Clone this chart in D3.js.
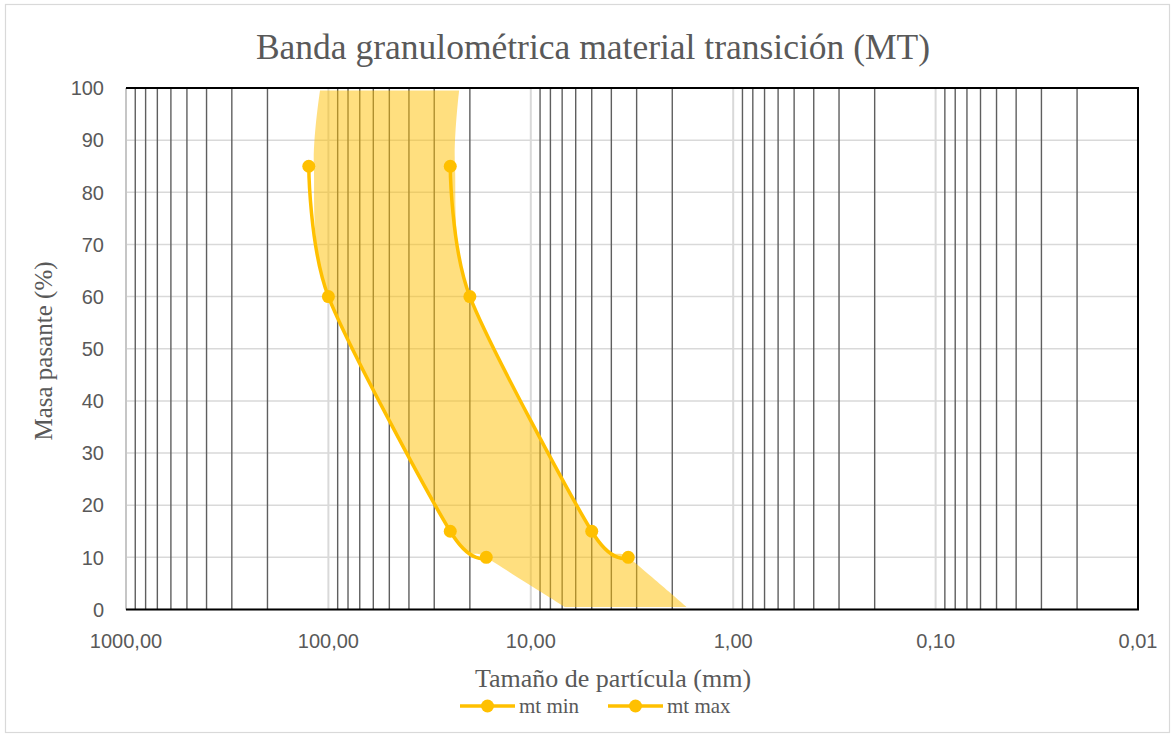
<!DOCTYPE html>
<html>
<head>
<meta charset="utf-8">
<script src="https://cdn.jsdelivr.net/npm/d3@7"></script>
<style>
  body { margin: 0; background: #fff; }
  text { fill: #595959; }
</style>
</head>
<body>
<svg id="chart" width="1174" height="736"></svg>
<script>
// pasante (%) de cada punto de las curvas
const percent = [85, 60, 15, 10];
const mtMin = [125, 100, 25, 16.6];
const mtMax = [25, 20, 5, 3.3];

// banda sombreada: borde grueso y borde fino
const bandPercent = [99.5, 85, 60, 15, 10, 0.5];
const bandCoarse = [110, 118, 100, 25, 16.6, 6.8];
const bandFine = [22.6, 23.7, 20, 5, 3.3, 1.7];

const xTicks = [1000, 100, 10, 1, 0.1, 0.01];
const yTicks = [0, 10, 20, 30, 40, 50, 60, 70, 80, 90, 100];

const svg = d3.select('#chart');
const pLeft = 126, pRight = 1138, pTop = 88, pBottom = 609.5;

const x = d3.scaleLog().domain([1000, 0.01]).range([pLeft, pRight]);
const y = d3.scaleLinear().domain([0, 100]).range([pBottom, pTop]);

const serif = "'Liberation Serif', 'DejaVu Serif', serif";
const sans = "'Liberation Sans', Arial, sans-serif";
const smooth = d3.curveCardinal.tension(0.2);

// marco exterior
svg.append('rect')
    .attr('x', 5.5).attr('y', 4.5)
    .attr('width', 1164).attr('height', 728)
    .style('fill', 'white')
    .style('stroke', '#d9d9d9')
    .style('stroke-width', 1.2);

// rejilla horizontal
svg.append('g').selectAll('line')
    .data(yTicks)
    .enter()
    .append('line')
      .attr('x1', pLeft).attr('x2', pRight)
      .attr('y1', (d) => y(d)).attr('y2', (d) => y(d))
      .style('stroke', '#d9d9d9')
      .style('stroke-width', 1.5);

// rejilla vertical principal (decadas)
svg.append('g').selectAll('line')
    .data(xTicks)
    .enter()
    .append('line')
      .attr('x1', (d) => x(d)).attr('x2', (d) => x(d))
      .attr('y1', pTop).attr('y2', pBottom)
      .style('stroke', '#d9d9d9')
      .style('stroke-width', 2);

// rejilla vertical secundaria (2..9 de cada decada)
const minor = x.ticks().filter((d) => {
  const m = d / Math.pow(10, Math.floor(Math.log10(d) + 1e-9));
  return Math.round(m) !== 1;
});
svg.append('g').selectAll('line')
    .data(minor)
    .enter()
    .append('line')
      .attr('x1', (d) => x(d)).attr('x2', (d) => x(d))
      .attr('y1', pTop).attr('y2', pBottom)
      .style('stroke', '#5f5f5f')
      .style('stroke-width', 1.4);

// banda
const band = bandPercent.map((p, i) => ({p: p, c: bandCoarse[i], f: bandFine[i]}));
svg.append('path')
    .datum(band)
    .attr('d', d3.area()
        .y((d) => y(d.p))
        .x0((d) => x(d.c))
        .x1((d) => x(d.f))
        .curve(smooth))
    .style('fill', '#FFC000')
    .style('fill-opacity', 0.5);

// borde del area de trazado
svg.append('line')
    .attr('x1', pLeft).attr('x2', pLeft).attr('y1', pTop).attr('y2', pBottom)
    .style('stroke', '#bfbfbf').style('stroke-width', 1.5);
svg.append('path')
    .attr('d', `M${pLeft},${pTop}H${pRight}V${pBottom}H${pLeft}`)
    .style('fill', 'none')
    .style('stroke', 'black')
    .style('stroke-width', 2);

// series
const series = [
  {name: 'mt min', values: mtMin},
  {name: 'mt max', values: mtMax}
];
const line = d3.line()
    .x((d) => x(d.v))
    .y((d) => y(d.p))
    .curve(smooth);

series.forEach((s) => {
  const pts = percent.map((p, i) => ({p: p, v: s.values[i]}));
  svg.append('path')
      .datum(pts)
      .attr('d', line)
      .style('fill', 'none')
      .style('stroke', '#FFC000')
      .style('stroke-width', 3.5);
  svg.append('g').selectAll('circle')
      .data(pts)
      .enter()
      .append('circle')
        .attr('cx', (d) => x(d.v))
        .attr('cy', (d) => y(d.p))
        .attr('r', 6.5)
        .style('fill', '#FFC000');
});

// etiquetas de ejes
svg.append('g').selectAll('text')
    .data(yTicks)
    .enter()
    .append('text')
      .attr('x', 104)
      .attr('y', (d) => y(d))
      .attr('dy', '0.36em')
      .attr('text-anchor', 'end')
      .style('font-family', sans)
      .style('font-size', '20px')
      .text((d) => d);

const fmt = (d) => d3.format('.2f')(d).replace('.', ',');
svg.append('g').selectAll('text')
    .data(xTicks)
    .enter()
    .append('text')
      .attr('x', (d) => x(d))
      .attr('y', 648)
      .attr('text-anchor', 'middle')
      .style('font-family', sans)
      .style('font-size', '20px')
      .text(fmt);

// titulos
svg.append('text')
    .attr('x', 593).attr('y', 59)
    .attr('text-anchor', 'middle')
    .style('font-family', serif)
    .style('font-size', '35.5px')
    .text('Banda granulométrica material transición (MT)');

svg.append('text')
    .attr('x', 613).attr('y', 687)
    .attr('text-anchor', 'middle')
    .style('font-family', serif)
    .style('font-size', '26px')
    .text('Tamaño de partícula (mm)');

svg.append('text')
    .attr('transform', 'translate(52,351) rotate(-90)')
    .attr('text-anchor', 'middle')
    .style('font-family', serif)
    .style('font-size', '25px')
    .text('Masa pasante (%)');

// leyenda
const legend = svg.append('g').selectAll('g')
    .data(series)
    .enter()
    .append('g')
      .attr('transform', (d, i) => `translate(${460 + i * 148},706)`);
legend.append('line')
    .attr('x1', 0).attr('x2', 55)
    .style('stroke', '#FFC000')
    .style('stroke-width', 3.5);
legend.append('circle')
    .attr('cx', 27.5).attr('r', 6.5)
    .style('fill', '#FFC000');
legend.append('text')
    .attr('x', 59).attr('dy', '0.32em')
    .style('font-family', serif)
    .style('font-size', '21px')
    .text((d) => d.name);
</script>
</body>
</html>
